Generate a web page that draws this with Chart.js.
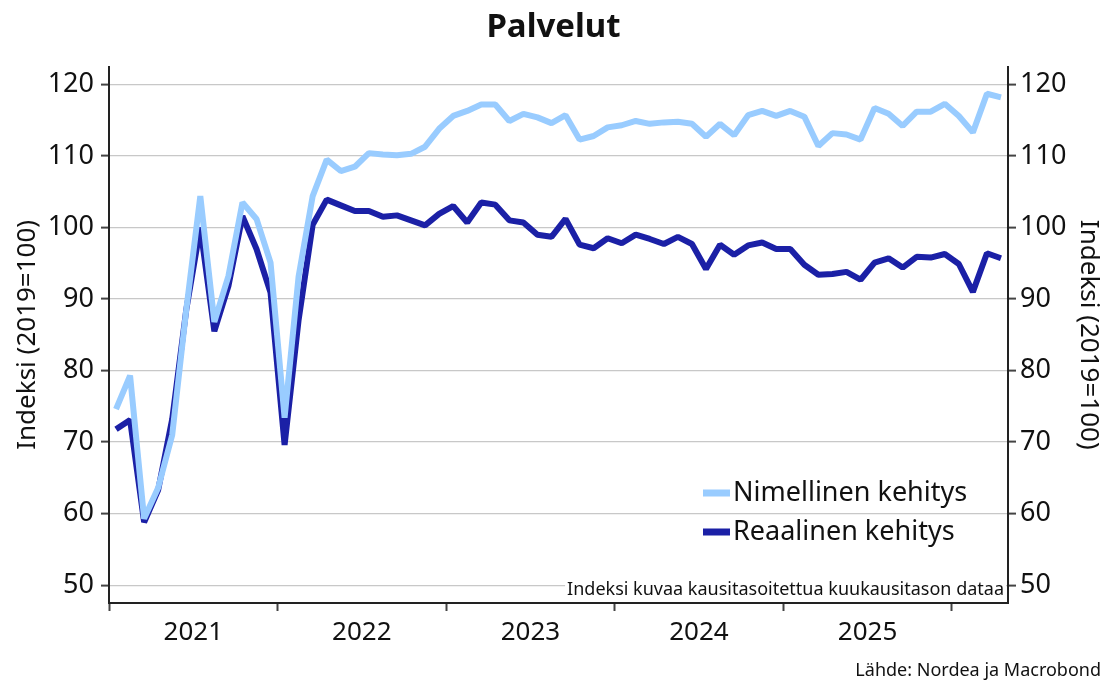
<!DOCTYPE html>
<html>
<head>
<meta charset="utf-8">
<script src="https://cdn.jsdelivr.net/npm/chart.js@4.4.1/dist/chart.umd.min.js"></script>
<style>
  body { margin: 0; background: #fff; }
  #wrap { width: 1107px; height: 682px; }
</style>
</head>
<body>
<div id="wrap"><canvas id="chart" width="1107" height="682"></canvas></div>
<script>
// Monthly data, Jan 2021 .. Apr 2026
const yearLabels = ['2021', '2022', '2023', '2024', '2025'];

const nominal = [
    74.6, 79.3, 59.3, 63.6, 71.0, 88.5, 104.4, 86.8, 93.2, 103.5, 101.2, 95.1,
    73.4, 93.2, 104.4, 109.5, 107.9, 108.5, 110.4, 110.2, 110.1, 110.3, 111.3, 113.8,
    115.6, 116.3, 117.2, 117.2, 114.9, 115.9, 115.4, 114.6, 115.7, 112.3, 112.8, 114.0,
    114.3, 114.9, 114.5, 114.7, 114.8, 114.5, 112.7, 114.5, 112.9, 115.7, 116.3, 115.6,
    116.3, 115.5, 111.4, 113.2, 113.0, 112.3, 116.7, 115.9, 114.2, 116.2, 116.2, 117.3,
    115.6, 113.3, 118.7, 118.2
];

const real = [
    71.8, 73.1, 58.8, 63.3, 73.2, 88.5, 100.0, 85.5, 91.8, 101.6, 97.0, 90.9,
    69.6, 87.1, 100.4, 103.9, 103.1, 102.3, 102.3, 101.5, 101.7, 101.0, 100.3, 101.9,
    103.0, 100.7, 103.5, 103.2, 101.0, 100.7, 99.0, 98.7, 101.2, 97.6, 97.1, 98.5,
    97.8, 99.0, 98.4, 97.7, 98.7, 97.7, 94.2, 97.6, 96.2, 97.5, 97.9, 97.0,
    97.0, 94.8, 93.4, 93.5, 93.8, 92.7, 95.1, 95.7, 94.4, 95.9, 95.8, 96.3,
    94.9, 91.0, 96.4, 95.7
];

const yTicks = [50, 60, 70, 80, 90, 100, 110, 120];

const FONT = "'Noto Sans', 'Open Sans', sans-serif";
const lightBlue = '#99ccff';
const darkBlue = '#1b20a6';

// each month sits in the middle of its slot on a linear month axis
const toPoints = (arr) => arr.map((v, i) => ({ x: i + 0.5, y: v }));

const notesPlugin = {
    id: 'notes',
    afterDatasetsDraw(chart) {
        const { ctx, chartArea } = chart;
        ctx.save();

        // legend inside the plot
        chart.data.datasets.forEach((ds, i) => {
            const y = 493 + i * 39;
            ctx.fillStyle = ds.borderColor;
            ctx.fillRect(703, y - 3.5, 27, 7);
            ctx.fillStyle = '#111';
            ctx.font = '27px ' + FONT;
            ctx.textAlign = 'left';
            ctx.textBaseline = 'middle';
            ctx.fillText(ds.label, 733, y);
        });

        // note at bottom right of plot
        const note = 'Indeksi kuvaa kausitasoitettua kuukausitason dataa';
        ctx.font = '18px ' + FONT;
        const w = ctx.measureText(note).width;
        ctx.fillStyle = '#fff';
        ctx.fillRect(chartArea.right - w - 6, 579, w + 4, 21);
        ctx.fillStyle = '#111';
        ctx.textAlign = 'right';
        ctx.textBaseline = 'middle';
        ctx.fillText(note, chartArea.right - 4, 590);

        // source
        ctx.fillText('Lähde: Nordea ja Macrobond', 1101, 671);
        ctx.restore();
    }
};

const yAxis = (side) => ({
    type: 'linear',
    position: side,
    min: 47.5,
    max: 122.5,
    afterBuildTicks: (scale) => { scale.ticks = yTicks.map(v => ({ value: v })); },
    afterFit: (scale) => { scale.width = side === 'left' ? 109 : 99; },
    border: { color: '#222', width: 2 },
    grid: {
        drawOnChartArea: side === 'left',
        color: '#c8c8c8',
        lineWidth: 1.2,
        tickColor: '#444',
        tickLength: 8,
        tickWidth: 2
    },
    ticks: {
        color: '#111',
        padding: side === 'left' ? 7 : 4,
        font: { family: FONT, size: 27 }
    },
    title: {
        display: true,
        text: 'Indeksi (2019=100)',
        color: '#111',
        padding: { top: side === 'left' ? 12 : 3, bottom: 0 },
        font: { family: FONT, size: 26 }
    }
});

new Chart(document.getElementById('chart'), {
    type: 'line',
    data: {
        datasets: [
            {
                label: 'Nimellinen kehitys',
                data: toPoints(nominal),
                borderColor: lightBlue,
                borderWidth: 6,
                pointRadius: 0,
                borderJoinStyle: 'bevel',
                tension: 0
            },
            {
                label: 'Reaalinen kehitys',
                data: toPoints(real),
                borderColor: darkBlue,
                borderWidth: 6,
                pointRadius: 0,
                borderJoinStyle: 'bevel',
                tension: 0
            }
        ]
    },
    options: {
        responsive: false,
        animation: false,
        layout: { padding: 0 },
        plugins: {
            legend: { display: false },
            tooltip: { enabled: false },
            title: {
                display: true,
                text: 'Palvelut',
                color: '#111',
                font: { family: FONT, size: 33, weight: 'bold' },
                padding: { top: 8, bottom: 19 }
            }
        },
        scales: {
            x: {
                type: 'linear',
                min: 0,
                max: nominal.length,
                afterBuildTicks: (scale) => {
                    const t = [];
                    for (let m = 0; m <= 60; m += 6) t.push({ value: m });
                    scale.ticks = t;
                },
                afterFit: (scale) => { scale.height = 79; },
                border: { color: '#222', width: 2 },
                grid: {
                    drawOnChartArea: false,
                    tickLength: 8,
                    tickWidth: 2,
                    tickColor: (c) => (c.tick && c.tick.value % 12 === 0) ? '#444' : 'rgba(0,0,0,0)'
                },
                ticks: {
                    autoSkip: false,
                    maxRotation: 0,
                    color: '#111',
                    padding: 6,
                    font: { family: FONT, size: 26 },
                    callback: (v) => (v % 12 === 6) ? yearLabels[(v - 6) / 12] : ''
                }
            },
            y: yAxis('left'),
            y2: yAxis('right')
        }
    },
    plugins: [notesPlugin]
});
</script>
</body>
</html>
